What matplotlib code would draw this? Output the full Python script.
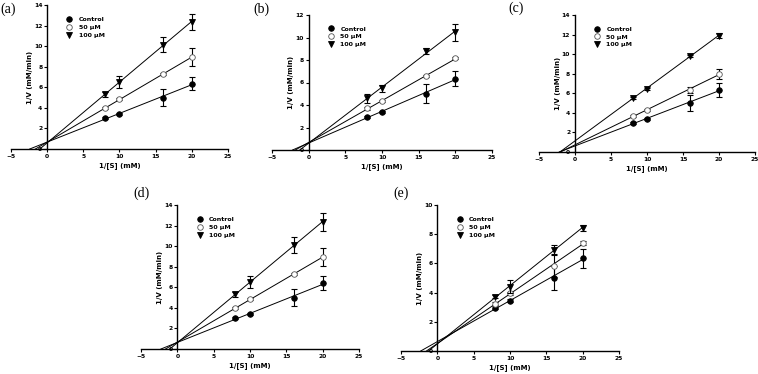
import numpy as np
import matplotlib
matplotlib.use('Agg')
from matplotlib import pyplot as plt

# inverse substrate concentration, 1/[S] (mM)
x = [8, 10, 16, 20]
labels = ['Control', '50 \u03bcM', '100 \u03bcM']

# 1/V values for each panel: control, 50 uM, 100 uM
a_ctrl = [3.0, 3.4, 5.0, 6.35]
a_50 = [3.95, 4.85, 7.25, 8.95]
a_100 = [5.3, 6.5, 10.15, 12.35]
a_ctrl_err = [0.1, 0.1, 0.85, 0.65]
a_50_err = [0.1, 0.1, 0.1, 0.85]
a_100_err = [0.25, 0.55, 0.75, 0.8]

b_ctrl = [2.95, 3.4, 5.0, 6.35]
b_50 = [3.7, 4.35, 6.55, 8.15]
b_100 = [4.6, 5.5, 8.8, 10.45]
b_ctrl_err = [0.1, 0.1, 0.85, 0.7]
b_50_err = [0.1, 0.1, 0.1, 0.1]
b_100_err = [0.4, 0.3, 0.25, 0.75]

c_ctrl = [2.95, 3.4, 5.0, 6.35]
c_50 = [3.7, 4.25, 6.35, 8.0]
c_100 = [5.5, 6.45, 9.85, 11.9]
c_ctrl_err = [0.1, 0.1, 0.85, 0.7]
c_50_err = [0.1, 0.1, 0.3, 0.5]
c_100_err = [0.1, 0.1, 0.1, 0.25]

d_ctrl = [3.0, 3.4, 5.0, 6.4]
d_50 = [3.95, 4.85, 7.25, 8.95]
d_100 = [5.3, 6.5, 10.1, 12.35]
d_ctrl_err = [0.1, 0.1, 0.85, 0.65]
d_50_err = [0.1, 0.1, 0.1, 0.85]
d_100_err = [0.25, 0.55, 0.8, 0.85]

e_ctrl = [2.95, 3.44, 5.0, 6.36]
e_50 = [3.23, 3.96, 5.85, 7.38]
e_100 = [3.73, 4.4, 6.92, 8.45]
e_ctrl_err = [0.1, 0.1, 0.85, 0.65]
e_50_err = [0.1, 0.1, 0.8, 0.15]
e_100_err = [0.1, 0.45, 0.35, 0.2]

panels = [
    ('(a)', [a_ctrl, a_50, a_100], [a_ctrl_err, a_50_err, a_100_err], 14),
    ('(b)', [b_ctrl, b_50, b_100], [b_ctrl_err, b_50_err, b_100_err], 12),
    ('(c)', [c_ctrl, c_50, c_100], [c_ctrl_err, c_50_err, c_100_err], 14),
    ('(d)', [d_ctrl, d_50, d_100], [d_ctrl_err, d_50_err, d_100_err], 14),
    ('(e)', [e_ctrl, e_50, e_100], [e_ctrl_err, e_50_err, e_100_err], 10),
]

W, H = 758, 374
# axes boxes in pixels: x(-5), x(25), y(top), y(0)
boxes = [(11, 228, 5, 149), (272, 492, 15, 150), (539, 755, 15, 152),
         (141, 359, 205, 349), (401, 619, 205, 351)]
# panel label positions in pixels
lab_pos = [(0, 9), (253, 9), (508, 8), (133, 193), (393, 193)]

fig = plt.figure(figsize=(W / 100, H / 100), dpi=100)

styles = [dict(marker='o', mfc='black', mec='black'),
          dict(marker='o', mfc='white', mec='#555555'),
          dict(marker='v', mfc='black', mec='black')]

for (name, ys, errs, ytop), (x0, x1, yt, yb), (lx, ly) in zip(panels, boxes, lab_pos):
    ax = fig.add_axes([x0 / W, 1 - yb / H, (x1 - x0) / W, (yb - yt) / H])
    for y, e, st, lab in zip(ys, errs, styles, labels):
        m, b = np.polyfit(x, y, 1)
        xs = np.array([-b / m, 20])
        ax.plot(xs, m * xs + b, color='black', lw=0.7)
        ax.errorbar(x, y, yerr=e, fmt='none', ecolor='black', elinewidth=0.8,
                    capsize=2, capthick=0.8)
        ax.plot(x, y, ls='none', ms=4, mew=0.6, label=lab, **st)
    ax.set_xlim(-5, 25)
    ax.set_ylim(0, ytop)
    ax.spines['left'].set_position(('data', 0))
    ax.spines['top'].set_visible(False)
    ax.spines['right'].set_visible(False)
    ax.spines['left'].set_linewidth(1.0)
    ax.spines['bottom'].set_linewidth(1.0)
    ax.set_xticks([-5, 0, 5, 10, 15, 20, 25])
    ax.set_yticks(np.arange(0, ytop + 1, 2))
    ax.tick_params(labelsize=4.3, length=2, width=0.8, pad=1.5)
    for t in ax.get_xticklabels() + ax.get_yticklabels():
        t.set_fontweight('bold')
    ax.set_xlabel('1/[S] (mM)', fontsize=5, fontweight='bold', labelpad=2)
    ax.set_ylabel('1/V (mM/min)', fontsize=5, fontweight='bold')
    ax.yaxis.set_label_coords(0.1, 0.5)
    leg = ax.legend(loc='upper left', bbox_to_anchor=(0.24, 0.94), frameon=False,
                    fontsize=4.5, handletextpad=1.0, labelspacing=0.4,
                    handlelength=1.0, borderpad=0)
    for t in leg.get_texts():
        t.set_fontweight('bold')
    fig.text(lx / W, 1 - ly / H, name, fontsize=10, family='Liberation Serif',
             va='center', ha='left')

plt.savefig('out.png', dpi=100)
